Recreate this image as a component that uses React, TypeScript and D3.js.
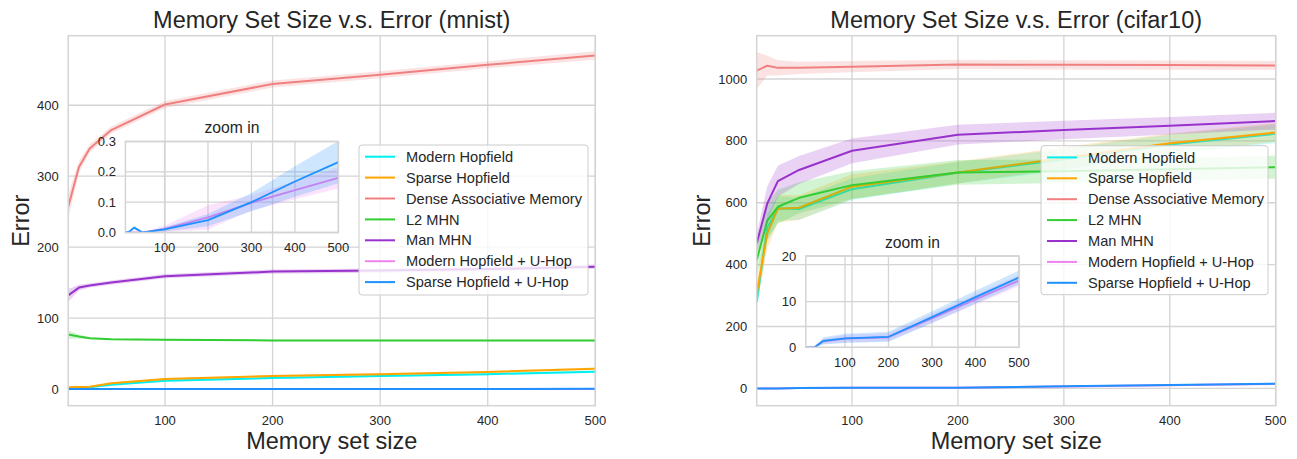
import { useEffect, useRef } from 'react'
import * as d3 from 'd3'

// memory set sizes on the x axis
const sizes = [10, 20, 30, 50, 100, 200, 300, 400, 500]

const seriesNames = [
  'Modern Hopfield',
  'Sparse Hopfield',
  'Dense Associative Memory',
  'L2 MHN',
  'Man MHN',
  'Modern Hopfield + U-Hop',
  'Sparse Hopfield + U-Hop',
]
const seriesColors = ['#00F0F0', '#FFA500', '#F08080', '#32CD32', '#9932CC', '#EE82EE', '#1E90FF']

// mnist: mean error and spread (band half-width)
const mnistModern = [1.5, 2, 2.5, 6, 11.5, 15.5, 18.5, 21, 24.5]
const mnistModernSd = [1, 1, 1, 1, 1.5, 1.5, 1.5, 1.5, 1.5]
const mnistSparse = [2.4, 2.8, 3.3, 8, 14, 18.3, 21, 24, 28.7]
const mnistSparseSd = [1, 1, 1, 1, 1.5, 1.5, 1.5, 1.5, 1.5]
const mnistDense = [257, 313, 339, 365, 401, 430, 443, 457, 470]
const mnistDenseSd = [18, 8, 6, 5, 5, 5, 5, 5, 6]
const mnistL2 = [77, 74, 71.5, 70, 69.5, 68.5, 68.5, 68.5, 68.5]
const mnistL2Sd = [6, 3, 1.5, 1, 1, 1, 1, 1, 1]
const mnistMan = [132, 143, 146, 150, 159, 165.5, 167, 169, 172.5]
const mnistManSd = [9, 4, 3, 3, 3, 3, 3, 3, 3]
const mnistModernU = [0, 0, 0, 0, 0.012, 0.05, 0.098, 0.14, 0.18]
const mnistModernUSd = [0, 0, 0, 0, 0.01, 0.04, 0.025, 0.03, 0.035]
const mnistSparseU = [0, 0.004, 0.016, 0, 0.0106, 0.041, 0.1, 0.168, 0.232]
const mnistSparseUSd = [0, 0.003, 0.006, 0, 0.007, 0.02, 0.03, 0.05, 0.07]

// cifar10
const cifarModern = [280, 520, 582, 580, 644, 697, 740, 788, 823]
const cifarModernSd = [30, 45, 40, 35, 35, 35, 35, 33, 30]
const cifarSparse = [307, 501, 581, 584, 652, 698, 745, 792, 827]
const cifarSparseSd = [40, 50, 45, 40, 40, 35, 35, 32, 30]
const cifarDense = [1027, 1043, 1036, 1036, 1040, 1047, 1046, 1045, 1044]
const cifarDenseSd = [60, 32, 25, 20, 18, 15, 15, 15, 14]
const cifarL2 = [415, 542, 587, 616, 657, 698, 702, 708, 715]
const cifarL2Sd = [50, 60, 55, 50, 45, 40, 38, 37, 37]
const cifarMan = [469, 598, 670, 706, 768, 820, 835, 849, 864]
const cifarManSd = [30, 55, 50, 45, 40, 32, 30, 28, 27]
const cifarModernU = [0, 0, 0, 1.3, 1.9, 2.2, 6.3, 10.5, 14.6]
const cifarModernUSd = [0, 0, 0, 0.6, 0.8, 0.9, 1, 1.1, 1.2]
const cifarSparseU = [0, 0, 0, 1.4, 1.95, 2.3, 6.6, 11, 15.3]
const cifarSparseUSd = [0, 0, 0, 0.8, 1, 1.1, 1.3, 1.4, 1.5]

const xTicks = [100, 200, 300, 400, 500]
const mnistYTicks = [0, 100, 200, 300, 400]
const cifarYTicks = [0, 200, 400, 600, 800, 1000]
const mnistInsetTicks = [0, 0.1, 0.2, 0.3]
const cifarInsetTicks = [0, 10, 20]

const FONT = '"Liberation Sans", Arial, Helvetica, sans-serif'
const TEXT = '#262626'
const GRID = '#d4d4d4'

interface Box { left: number; right: number; top: number; bottom: number }
interface PanelCfg extends Box {
  id: string
  title: string
  yDomain: [number, number]
  yTicks: number[]
  means: number[][]
  sds: number[][]
  inset: Box & { yDomain: [number, number]; yTicks: number[]; fmt: (v: number) => string }
  legend: { x: number; y: number; w: number; h: number }
}

const panels: PanelCfg[] = [
  {
    id: 'mnist',
    title: 'Memory Set Size v.s. Error (mnist)',
    left: 68.2, right: 595.3, top: 35.7, bottom: 405.7,
    yDomain: [-23.5, 498],
    yTicks: mnistYTicks,
    means: [mnistModern, mnistSparse, mnistDense, mnistL2, mnistMan, mnistModernU, mnistSparseU],
    sds: [mnistModernSd, mnistSparseSd, mnistDenseSd, mnistL2Sd, mnistManSd, mnistModernUSd, mnistSparseUSd],
    inset: { left: 125.4, right: 338.4, top: 141.5, bottom: 232.5, yDomain: [0, 0.3], yTicks: mnistInsetTicks, fmt: d3.format('.1f') },
    legend: { x: 359, y: 145, w: 229, h: 150 },
  },
  {
    id: 'cifar',
    title: 'Memory Set Size v.s. Error (cifar10)',
    left: 756.7, right: 1275.7, top: 35.7, bottom: 405.7,
    yDomain: [-56, 1140],
    yTicks: cifarYTicks,
    means: [cifarModern, cifarSparse, cifarDense, cifarL2, cifarMan, cifarModernU, cifarSparseU],
    sds: [cifarModernSd, cifarSparseSd, cifarDenseSd, cifarL2Sd, cifarManSd, cifarModernUSd, cifarSparseUSd],
    inset: { left: 805.8, right: 1019, top: 256, bottom: 347.3, yDomain: [0, 20], yTicks: cifarInsetTicks, fmt: d3.format('d') },
    legend: { x: 1041, y: 145.7, w: 227, h: 149 },
  },
]

type Sel = d3.Selection<SVGSVGElement, unknown, null, undefined>

function drawSeries(
  g: d3.Selection<SVGGElement, unknown, null, undefined>,
  p: PanelCfg,
  x: d3.ScaleLinear<number, number>,
  y: d3.ScaleLinear<number, number>,
  lw: number
) {
  p.means.forEach((m, i) => {
    const sd = p.sds[i]
    const area = d3
      .area<number>()
      .x((_, j) => x(sizes[j]))
      .y0((d, j) => y(d - sd[j]))
      .y1((d, j) => y(d + sd[j]))
    const line = d3
      .line<number>()
      .x((_, j) => x(sizes[j]))
      .y((d) => y(d))
    g.append('path').attr('d', area(m) || '').attr('fill', seriesColors[i]).attr('fill-opacity', 0.22)
    g.append('path')
      .attr('d', line(m) || '')
      .attr('fill', 'none')
      .attr('stroke', seriesColors[i])
      .attr('stroke-width', lw)
      .attr('stroke-linejoin', 'round')
  })
}

function drawPanel(svg: Sel, p: PanelCfg) {
  const x = d3.scaleLinear().domain([10, 500]).range([p.left, p.right])
  const y = d3.scaleLinear().domain(p.yDomain).range([p.bottom, p.top])
  const root = svg.append('g')

  // grid
  root
    .selectAll('.vgrid')
    .data(xTicks)
    .enter()
    .append('line')
    .attr('x1', (d) => x(d)).attr('x2', (d) => x(d))
    .attr('y1', p.top).attr('y2', p.bottom)
    .attr('stroke', GRID).attr('stroke-width', 1.3)
  root
    .selectAll('.hgrid')
    .data(p.yTicks)
    .enter()
    .append('line')
    .attr('x1', p.left).attr('x2', p.right)
    .attr('y1', (d) => y(d)).attr('y2', (d) => y(d))
    .attr('stroke', GRID).attr('stroke-width', 1.3)

  // data, clipped to the axes
  const defs = svg.append('defs')
  defs.append('clipPath').attr('id', `clip-${p.id}`)
    .append('rect').attr('x', p.left).attr('y', p.top)
    .attr('width', p.right - p.left).attr('height', p.bottom - p.top)
  const dataG = root.append('g').attr('clip-path', `url(#clip-${p.id})`)
  drawSeries(dataG, p, x, y, 2)

  // spines
  root.append('rect')
    .attr('x', p.left).attr('y', p.top)
    .attr('width', p.right - p.left).attr('height', p.bottom - p.top)
    .attr('fill', 'none').attr('stroke', GRID).attr('stroke-width', 1.5)

  // tick labels
  root.selectAll('.xt').data(xTicks).enter().append('text')
    .attr('x', (d) => x(d)).attr('y', p.bottom + 19)
    .attr('text-anchor', 'middle').attr('font-size', 13).attr('fill', TEXT)
    .attr('font-family', FONT).text((d) => d)
  root.selectAll('.yt').data(p.yTicks).enter().append('text')
    .attr('x', p.left - 9.5).attr('y', (d) => y(d)).attr('dy', '0.35em')
    .attr('text-anchor', 'end').attr('font-size', 13).attr('fill', TEXT)
    .attr('font-family', FONT).text((d) => d)

  // title and axis labels
  const cx = (p.left + p.right) / 2
  root.append('text').attr('x', cx).attr('y', 28)
    .attr('text-anchor', 'middle').attr('font-size', 23.5).attr('fill', TEXT)
    .attr('font-family', FONT).text(p.title)
  root.append('text').attr('x', cx).attr('y', 449)
    .attr('text-anchor', 'middle').attr('font-size', 23.5).attr('fill', TEXT)
    .attr('font-family', FONT).text('Memory set size')
  const maxLen = d3.max(p.yTicks, (d) => String(d).length) || 3
  const lx = p.left - 9.5 - maxLen * 0.556 * 13 - 8
  root.append('text')
    .attr('transform', `translate(${lx},${(p.top + p.bottom) / 2}) rotate(-90)`)
    .attr('text-anchor', 'middle').attr('font-size', 23.5).attr('fill', TEXT)
    .attr('font-family', FONT).text('Error')

  // inset "zoom in"
  const ins = p.inset
  const ix = d3.scaleLinear().domain([10, 500]).range([ins.left, ins.right])
  const iy = d3.scaleLinear().domain(ins.yDomain).range([ins.bottom, ins.top])
  const ig = root.append('g')
  ig.selectAll('.ivg').data(xTicks).enter().append('line')
    .attr('x1', (d) => ix(d)).attr('x2', (d) => ix(d))
    .attr('y1', ins.top).attr('y2', ins.bottom)
    .attr('stroke', GRID).attr('stroke-width', 1.3)
  ig.selectAll('.ihg').data(ins.yTicks).enter().append('line')
    .attr('x1', ins.left).attr('x2', ins.right)
    .attr('y1', (d) => iy(d)).attr('y2', (d) => iy(d))
    .attr('stroke', GRID).attr('stroke-width', 1.3)
  defs.append('clipPath').attr('id', `clip-in-${p.id}`)
    .append('rect').attr('x', ins.left).attr('y', ins.top)
    .attr('width', ins.right - ins.left).attr('height', ins.bottom - ins.top)
  const iData = ig.append('g').attr('clip-path', `url(#clip-in-${p.id})`)
  drawSeries(iData, p, ix, iy, 1.8)
  ig.append('rect')
    .attr('x', ins.left).attr('y', ins.top)
    .attr('width', ins.right - ins.left).attr('height', ins.bottom - ins.top)
    .attr('fill', 'none').attr('stroke', GRID).attr('stroke-width', 1.5)
  ig.selectAll('.ixt').data(xTicks).enter().append('text')
    .attr('x', (d) => ix(d)).attr('y', ins.bottom + 19.5)
    .attr('text-anchor', 'middle').attr('font-size', 13).attr('fill', TEXT)
    .attr('font-family', FONT).text((d) => d)
  ig.selectAll('.iyt').data(ins.yTicks).enter().append('text')
    .attr('x', ins.left - 9.5).attr('y', (d) => iy(d)).attr('dy', '0.35em')
    .attr('text-anchor', 'end').attr('font-size', 13).attr('fill', TEXT)
    .attr('font-family', FONT).text((d) => ins.fmt(d))
  ig.append('text').attr('x', (ins.left + ins.right) / 2).attr('y', ins.top - 8.5)
    .attr('text-anchor', 'middle').attr('font-size', 15.7).attr('fill', TEXT)
    .attr('font-family', FONT).text('zoom in')

  // legend
  const lg = p.legend
  const leg = root.append('g').attr('transform', `translate(${lg.x},${lg.y})`)
  leg.append('rect').attr('width', lg.w).attr('height', lg.h).attr('rx', 3)
    .attr('fill', 'white').attr('fill-opacity', 0.8)
    .attr('stroke', '#cccccc').attr('stroke-width', 1)
  const items = leg.selectAll('.li').data(seriesNames).enter().append('g')
    .attr('transform', (_, i) => `translate(0,${11.7 + i * 20.9})`)
  items.append('line').attr('x1', 6).attr('x2', 36).attr('y1', 0).attr('y2', 0)
    .attr('stroke', (_, i) => seriesColors[i]).attr('stroke-width', 2)
  items.append('text').attr('x', 47).attr('y', 0).attr('dy', '0.35em')
    .attr('font-size', 14.6).attr('fill', TEXT).attr('font-family', FONT)
    .text((d) => d)
}

export default function App() {
  const svgRef = useRef<SVGSVGElement>(null)

  useEffect(() => {
    if (!svgRef.current) return
    const svg = d3.select(svgRef.current)
    svg.selectAll('*').remove()
    panels.forEach((p) => drawPanel(svg, p))
  }, [])

  return (
    <svg
      ref={svgRef}
      width={1297}
      height={459}
      style={{ position: 'absolute', left: 0, top: 0, background: 'white' }}
    />
  )
}
